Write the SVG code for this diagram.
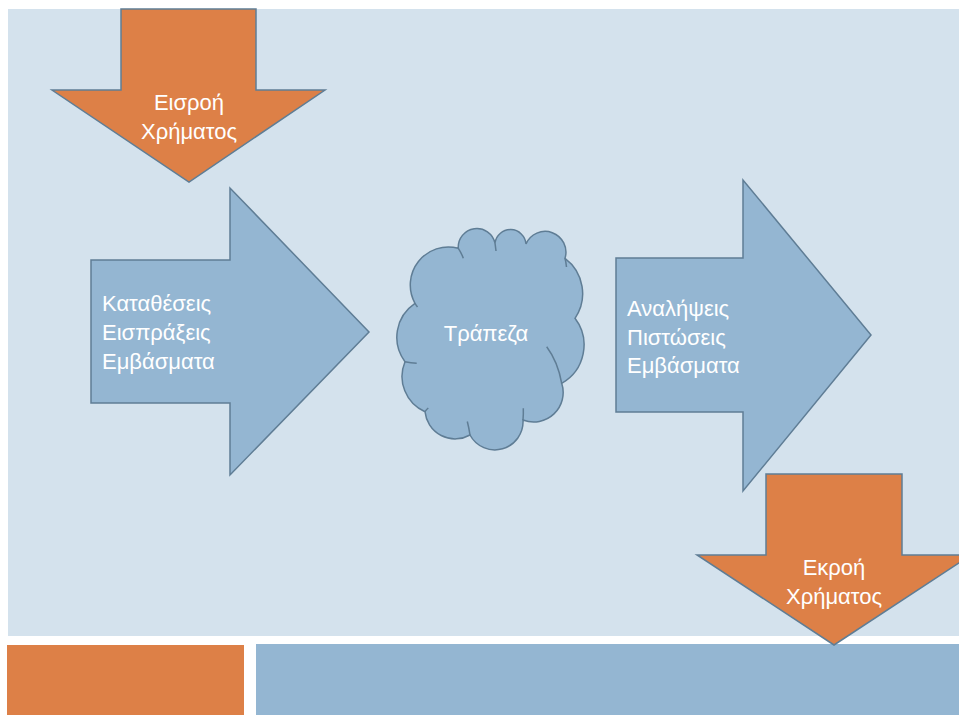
<svg xmlns="http://www.w3.org/2000/svg" width="959" height="715" viewBox="0 0 959 715">
<style>
.arrow{stroke:#5f7d95;stroke-width:1.5;stroke-linejoin:miter}
.orange{fill:#dd8047}
.blue{fill:#94b6d2}
.lbl{font-family:"Liberation Sans","DejaVu Sans",sans-serif;font-size:22px;fill:#ffffff}
.mid{text-anchor:middle}
.crease{fill:none;stroke:#5f7d95;stroke-width:1.5}
</style>
<rect x="0" y="0" width="959" height="715" fill="#ffffff"/>
<rect x="8" y="9" width="951" height="627" fill="#d4e2ed"/>
<rect x="7" y="645" width="237" height="70" fill="#dd8047"/>
<rect x="256" y="644" width="703" height="71" fill="#94b6d2"/>

<g id="inflow">
<polygon class="arrow orange" points="121,9 256,9 256,90 325,90 189,182 52,90 121,90"/>
<text class="lbl mid" x="189" y="110">Εισροή</text>
<text class="lbl mid" x="189" y="139">Χρήματος</text>
</g>

<g id="deposits">
<polygon class="arrow blue" points="91,260 230,260 230,188 369,332 230,475 230,403 91,403"/>
<text class="lbl" x="102" y="311">Καταθέσεις</text>
<text class="lbl" x="102" y="340">Εισπράξεις</text>
<text class="lbl" x="102" y="369">Εμβάσματα</text>
</g>

<g id="bank">
<path class="arrow blue" d="M415,303.3 A38,38 0 0 1 458.3,248.3 A18.6,18.6 0 0 1 495,243 A15.6,15.6 0 0 1 526,244 A20.8,20.8 0 0 1 565,258.3 A44,44 0 0 1 575,318.3 A44,44 0 0 1 561.7,383.3 A29.5,29.5 0 0 1 523,420 A28.2,28.2 0 0 1 470,435 A30.3,30.3 0 0 1 425,411.7 A38.5,38.5 0 0 1 405,361.7 A40.8,40.8 0 0 1 415,303.3 Z"/>
<path class="crease" d="M458.3,248.3 Q461.5,253 463.3,258.3"/>
<path class="crease" d="M495,243 Q495.5,247 496,251"/>
<path class="crease" d="M565,258.3 Q566,262 566.5,267"/>
<path class="crease" d="M546.7,346.7 Q558,362 561.7,383.3"/>
<path class="crease" d="M523,420 Q523.5,414 523.3,408.3"/>
<path class="crease" d="M470,435 Q469,428 467.3,421.5"/>
<path class="crease" d="M425,411.7 Q426.5,409.5 428.3,408"/>
<path class="crease" d="M405,361.7 Q411,363 416.7,363.3"/>
<path class="crease" d="M415,303.3 Q416,305 417.5,307"/>
<text class="lbl mid" x="486" y="341">Τράπεζα</text>
</g>

<g id="withdrawals">
<polygon class="arrow blue" points="616,258 743,258 743,180 871,335 743,491 743,412 616,412"/>
<text class="lbl" x="627" y="316">Αναλήψεις</text>
<text class="lbl" x="627" y="344.5">Πιστώσεις</text>
<text class="lbl" x="627" y="373">Εμβάσματα</text>
</g>

<g id="outflow">
<polygon class="arrow orange" points="766,474 902,474 902,555 971,555 834,645 697,555 766,555"/>
<text class="lbl mid" x="834" y="575">Εκροή</text>
<text class="lbl mid" x="834" y="604">Χρήματος</text>
</g>

<g id="connectors"></g>
</svg>
